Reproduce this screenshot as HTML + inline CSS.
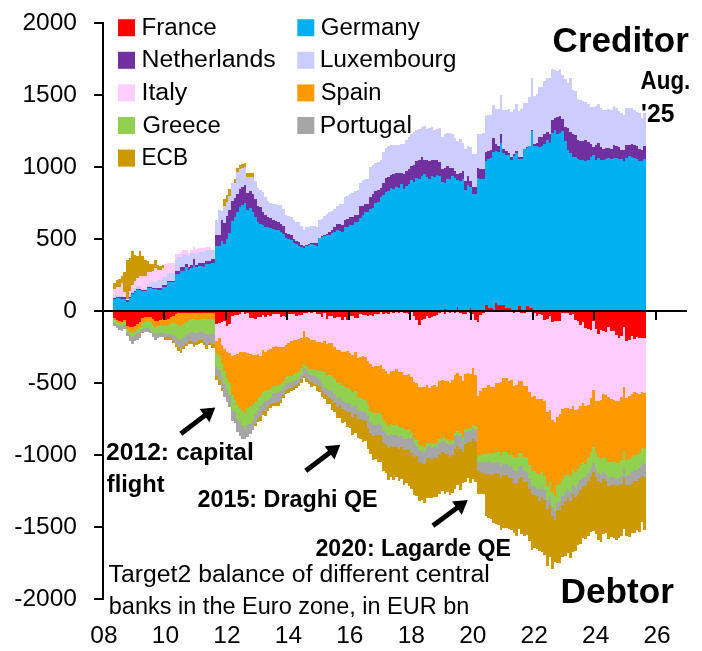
<!DOCTYPE html>
<html lang="en"><head><meta charset="utf-8"><title>Target2 balances</title>
<style>
html,body{margin:0;padding:0;background:#fff;}
body{width:702px;height:651px;overflow:hidden;}
svg{display:block;font-family:"Liberation Sans",Arial,sans-serif;fill:#000;}
</style></head><body>
<svg width="702" height="651" viewBox="0 0 702 651">
<rect width="702" height="651" fill="#fff"/>
<g shape-rendering="crispEdges">
<path d="M113.24,311.0L113.24,283.0L115.80,283.0L115.80,280.0L118.37,280.0L118.37,278.5L120.93,278.5L120.93,276.0L123.49,276.0L123.49,271.5L126.05,271.5L126.05,260.0L128.61,260.0L128.61,257.5L131.17,257.5L131.17,250.5L133.73,250.5L133.73,255.0L136.29,255.0L136.29,255.5L138.85,255.5L138.85,250.5L141.41,250.5L141.41,255.5L143.97,255.5L143.97,259.5L146.53,259.5L146.53,260.5L149.09,260.5L149.09,264.0L151.66,264.0L151.66,263.5L154.22,263.5L154.22,259.5L156.78,259.5L156.78,265.0L159.34,265.0L159.34,266.2L161.90,266.2L161.90,265.0L164.46,265.0L164.46,264.0L167.02,264.0L167.02,263.0L169.58,263.0L169.58,263.0L172.14,263.0L172.14,263.0L174.70,263.0L174.70,253.5L177.26,253.5L177.26,253.5L179.82,253.5L179.82,251.5L182.39,251.5L182.39,249.5L184.95,249.5L184.95,249.5L187.51,249.5L187.51,252.5L190.07,252.5L190.07,249.5L192.63,249.5L192.63,246.5L195.19,246.5L195.19,248.5L197.75,248.5L197.75,248.0L200.31,248.0L200.31,248.0L202.87,248.0L202.87,248.0L205.43,248.0L205.43,247.0L207.99,247.0L207.99,247.0L210.56,247.0L210.56,249.5L213.12,249.5L213.12,249.5L214.60,249.5L214.60,220.0L218.24,220.0L218.24,210.3L220.80,210.3L220.80,210.8L223.36,210.8L223.36,199.1L225.92,199.1L225.92,195.0L228.48,195.0L228.48,189.3L231.04,189.3L231.04,183.3L233.60,183.3L233.60,179.1L236.16,179.1L236.16,167.9L238.72,167.9L238.72,165.2L241.29,165.2L241.28,163.6L243.85,163.6L243.85,162.8L246.41,162.8L246.41,172.5L248.97,172.5L248.97,172.5L251.53,172.5L251.53,172.5L254.09,172.5L254.09,180.8L256.65,180.8L256.65,187.8L259.21,187.8L259.21,189.7L261.77,189.7L261.77,192.2L264.33,192.2L264.33,197.2L266.89,197.2L266.89,201.1L269.45,201.1L269.45,203.1L272.01,203.1L272.01,203.7L274.58,203.7L274.58,204.1L277.14,204.1L277.14,204.8L279.70,204.8L279.70,205.4L282.26,205.4L282.26,209.0L284.82,209.0L284.82,215.3L287.38,215.3L287.38,216.0L289.94,216.0L289.94,216.9L292.50,216.9L292.50,220.1L295.06,220.1L295.06,221.5L297.62,221.5L297.62,222.4L300.18,222.4L300.18,226.3L302.75,226.3L302.75,229.5L305.31,229.5L305.31,227.3L307.87,227.3L307.87,226.5L310.43,226.5L310.43,225.9L312.99,225.9L312.99,226.2L315.55,226.2L315.55,226.6L318.11,226.6L318.11,219.8L320.67,219.8L320.67,219.3L323.23,219.3L323.23,216.4L325.79,216.4L325.79,213.6L328.35,213.6L328.35,212.3L330.91,212.3L330.91,210.9L333.48,210.9L333.48,209.2L336.04,209.2L336.04,206.4L338.60,206.4L338.60,204.4L341.16,204.4L341.16,203.5L343.72,203.5L343.72,197.3L346.28,197.3L346.28,195.7L348.84,195.7L348.84,194.1L351.40,194.1L351.40,192.7L353.96,192.7L353.96,191.4L356.52,191.4L356.52,190.1L359.08,190.1L359.08,183.3L361.64,183.3L361.64,180.1L364.21,180.1L364.21,179.3L366.77,179.3L366.77,178.6L369.33,178.6L369.33,167.4L371.89,167.4L371.89,164.8L374.45,164.8L374.45,162.8L377.01,162.8L377.01,161.5L379.57,161.5L379.57,160.2L382.13,160.2L382.13,151.7L384.69,151.7L384.69,147.9L387.25,147.9L387.25,145.8L389.81,145.8L389.81,145.4L392.37,145.4L392.37,145.1L394.94,145.1L394.94,144.9L397.50,144.9L397.50,144.7L400.06,144.7L400.06,144.4L402.62,144.4L402.62,144.2L405.18,144.2L405.18,140.0L407.74,140.0L407.74,136.5L410.30,136.5L410.30,133.9L412.86,133.9L412.86,132.0L415.42,132.0L415.42,130.3L417.98,130.3L417.98,128.6L420.54,128.6L420.54,126.6L423.10,126.6L423.10,125.9L425.67,125.9L425.67,128.9L428.23,128.9L428.23,127.6L430.79,127.6L430.79,127.4L433.35,127.4L433.35,130.0L435.91,130.0L435.91,128.7L438.47,128.7L438.47,128.0L441.03,128.0L441.03,136.5L443.59,136.5L443.59,134.0L446.15,134.0L446.15,132.7L448.71,132.7L448.71,133.2L451.27,133.2L451.27,133.7L453.83,133.7L453.83,137.6L456.40,137.6L456.40,140.8L458.96,140.8L458.96,138.8L461.52,138.8L461.52,143.1L464.08,143.1L464.08,149.3L466.64,149.3L466.64,146.0L469.20,146.0L469.20,146.5L471.76,146.5L471.76,154.2L474.32,154.2L474.32,154.2L476.88,154.2L476.88,134.0L479.44,134.0L479.44,133.7L482.00,133.7L482.00,133.3L484.56,133.3L484.56,115.7L487.13,115.7L487.12,115.4L489.69,115.4L489.69,115.1L492.25,115.1L492.25,105.4L494.81,105.4L494.81,108.6L497.37,108.6L497.37,109.1L499.93,109.1L499.93,95.0L502.49,95.0L502.49,109.9L505.05,109.9L505.05,109.6L507.61,109.6L507.61,109.3L510.17,109.3L510.17,111.9L512.73,111.9L512.73,109.3L515.29,109.3L515.29,103.6L517.86,103.6L517.86,111.0L520.42,111.0L520.42,109.0L522.98,109.0L522.98,102.7L525.54,102.7L525.54,103.2L528.10,103.2L528.10,96.5L530.66,96.5L530.66,78.3L533.22,78.3L533.22,95.7L535.78,95.7L535.78,94.4L538.34,94.4L538.34,87.2L540.90,87.2L540.90,86.7L543.46,86.7L543.46,81.1L546.02,81.1L546.02,78.3L548.59,78.3L548.59,78.2L551.15,78.2L551.15,69.4L553.71,69.4L553.71,70.0L556.27,70.0L556.27,71.1L558.83,71.1L558.83,69.2L561.39,69.2L561.39,74.7L563.95,74.7L563.95,78.8L566.51,78.8L566.51,82.7L569.07,82.7L569.07,78.3L571.63,78.3L571.63,90.2L574.19,90.2L574.19,90.6L576.75,90.6L576.75,98.7L579.32,98.7L579.32,100.2L581.88,100.2L581.88,101.3L584.44,101.3L584.44,102.2L587.00,102.2L587.00,104.1L589.56,104.1L589.56,106.7L592.12,106.7L592.12,106.9L594.68,106.9L594.68,106.1L597.24,106.1L597.24,103.7L599.80,103.7L599.80,107.7L602.36,107.7L602.36,109.9L604.92,109.9L604.92,109.5L607.48,109.5L607.48,109.3L610.04,109.3L610.05,110.4L612.61,110.4L612.61,105.6L615.17,105.6L615.17,108.1L617.73,108.1L617.73,110.7L620.29,110.7L620.29,113.2L622.85,113.2L622.85,114.6L625.41,114.6L625.41,108.3L627.97,108.3L627.97,108.3L630.53,108.3L630.53,108.4L633.09,108.4L633.09,110.1L635.65,110.1L635.65,111.8L638.21,111.8L638.21,113.4L640.78,113.4L640.78,117.8L643.34,117.8L643.34,113.3L645.90,113.3L645.90,311.0Z" fill="#CC9900"/>
<path d="M113.24,311.0L113.24,289.0L115.80,289.0L115.80,286.5L118.37,286.5L118.37,286.5L120.93,286.5L120.93,283.2L123.49,283.2L123.49,292.0L126.05,292.0L126.05,299.0L128.61,299.0L128.61,291.0L131.17,291.0L131.17,285.0L133.73,285.0L133.73,281.0L136.29,281.0L136.29,277.5L138.85,277.5L138.85,275.5L141.41,275.5L141.41,275.5L143.97,275.5L143.97,275.5L146.53,275.5L146.53,272.0L149.09,272.0L149.09,272.0L151.66,272.0L151.66,270.5L154.22,270.5L154.22,267.5L156.78,267.5L156.78,270.0L159.34,270.0L159.34,270.0L161.90,270.0L161.90,268.3L164.46,268.3L164.46,264.0L167.02,264.0L167.02,263.0L169.58,263.0L169.58,263.0L172.14,263.0L172.14,263.0L174.70,263.0L174.70,253.5L177.26,253.5L177.26,253.5L179.82,253.5L179.82,251.5L182.39,251.5L182.39,249.5L184.95,249.5L184.95,249.5L187.51,249.5L187.51,252.5L190.07,252.5L190.07,249.5L192.63,249.5L192.63,246.5L195.19,246.5L195.19,248.5L197.75,248.5L197.75,248.0L200.31,248.0L200.31,248.0L202.87,248.0L202.87,248.0L205.43,248.0L205.43,247.0L207.99,247.0L207.99,247.0L210.56,247.0L210.56,249.5L213.12,249.5L213.12,249.5L214.60,249.5L214.60,220.0L218.24,220.0L218.24,210.3L220.80,210.3L220.80,210.8L223.36,210.8L223.36,205.6L225.92,205.6L225.92,201.5L228.48,201.5L228.48,195.8L231.04,195.8L231.04,183.3L233.60,183.3L233.60,183.3L236.16,183.3L236.16,172.1L238.72,172.1L238.72,169.4L241.29,169.4L241.28,167.8L243.85,167.8L243.85,167.0L246.41,167.0L246.41,176.7L248.97,176.7L248.97,176.7L251.53,176.7L251.53,176.7L254.09,176.7L254.09,180.8L256.65,180.8L256.65,187.8L259.21,187.8L259.21,189.7L261.77,189.7L261.77,192.2L264.33,192.2L264.33,197.2L266.89,197.2L266.89,201.1L269.45,201.1L269.45,203.1L272.01,203.1L272.01,203.7L274.58,203.7L274.58,204.1L277.14,204.1L277.14,204.8L279.70,204.8L279.70,205.4L282.26,205.4L282.26,209.0L284.82,209.0L284.82,215.3L287.38,215.3L287.38,216.0L289.94,216.0L289.94,216.9L292.50,216.9L292.50,220.1L295.06,220.1L295.06,221.5L297.62,221.5L297.62,222.4L300.18,222.4L300.18,226.3L302.75,226.3L302.75,229.5L305.31,229.5L305.31,227.3L307.87,227.3L307.87,226.5L310.43,226.5L310.43,225.9L312.99,225.9L312.99,226.2L315.55,226.2L315.55,226.6L318.11,226.6L318.11,219.8L320.67,219.8L320.67,219.3L323.23,219.3L323.23,216.4L325.79,216.4L325.79,213.6L328.35,213.6L328.35,212.3L330.91,212.3L330.91,210.9L333.48,210.9L333.48,209.2L336.04,209.2L336.04,206.4L338.60,206.4L338.60,204.4L341.16,204.4L341.16,203.5L343.72,203.5L343.72,197.3L346.28,197.3L346.28,195.7L348.84,195.7L348.84,194.1L351.40,194.1L351.40,192.7L353.96,192.7L353.96,191.4L356.52,191.4L356.52,190.1L359.08,190.1L359.08,183.3L361.64,183.3L361.64,180.1L364.21,180.1L364.21,179.3L366.77,179.3L366.77,178.6L369.33,178.6L369.33,167.4L371.89,167.4L371.89,164.8L374.45,164.8L374.45,162.8L377.01,162.8L377.01,161.5L379.57,161.5L379.57,160.2L382.13,160.2L382.13,151.7L384.69,151.7L384.69,147.9L387.25,147.9L387.25,145.8L389.81,145.8L389.81,145.4L392.37,145.4L392.37,145.1L394.94,145.1L394.94,144.9L397.50,144.9L397.50,144.7L400.06,144.7L400.06,144.4L402.62,144.4L402.62,144.2L405.18,144.2L405.18,140.0L407.74,140.0L407.74,136.5L410.30,136.5L410.30,133.9L412.86,133.9L412.86,132.0L415.42,132.0L415.42,130.3L417.98,130.3L417.98,128.6L420.54,128.6L420.54,126.6L423.10,126.6L423.10,125.9L425.67,125.9L425.67,128.9L428.23,128.9L428.23,127.6L430.79,127.6L430.79,127.4L433.35,127.4L433.35,130.0L435.91,130.0L435.91,128.7L438.47,128.7L438.47,128.0L441.03,128.0L441.03,136.5L443.59,136.5L443.59,134.0L446.15,134.0L446.15,132.7L448.71,132.7L448.71,133.2L451.27,133.2L451.27,133.7L453.83,133.7L453.83,137.6L456.40,137.6L456.40,140.8L458.96,140.8L458.96,138.8L461.52,138.8L461.52,143.1L464.08,143.1L464.08,149.3L466.64,149.3L466.64,146.0L469.20,146.0L469.20,146.5L471.76,146.5L471.76,154.2L474.32,154.2L474.32,154.2L476.88,154.2L476.88,134.0L479.44,134.0L479.44,133.7L482.00,133.7L482.00,133.3L484.56,133.3L484.56,115.7L487.13,115.7L487.12,115.4L489.69,115.4L489.69,115.1L492.25,115.1L492.25,105.4L494.81,105.4L494.81,108.6L497.37,108.6L497.37,109.1L499.93,109.1L499.93,95.0L502.49,95.0L502.49,109.9L505.05,109.9L505.05,109.6L507.61,109.6L507.61,109.3L510.17,109.3L510.17,111.9L512.73,111.9L512.73,109.3L515.29,109.3L515.29,103.6L517.86,103.6L517.86,111.0L520.42,111.0L520.42,109.0L522.98,109.0L522.98,102.7L525.54,102.7L525.54,103.2L528.10,103.2L528.10,96.5L530.66,96.5L530.66,78.3L533.22,78.3L533.22,95.7L535.78,95.7L535.78,94.4L538.34,94.4L538.34,87.2L540.90,87.2L540.90,86.7L543.46,86.7L543.46,81.1L546.02,81.1L546.02,78.3L548.59,78.3L548.59,78.2L551.15,78.2L551.15,69.4L553.71,69.4L553.71,70.0L556.27,70.0L556.27,71.1L558.83,71.1L558.83,69.2L561.39,69.2L561.39,74.7L563.95,74.7L563.95,78.8L566.51,78.8L566.51,82.7L569.07,82.7L569.07,78.3L571.63,78.3L571.63,90.2L574.19,90.2L574.19,90.6L576.75,90.6L576.75,98.7L579.32,98.7L579.32,100.2L581.88,100.2L581.88,101.3L584.44,101.3L584.44,102.2L587.00,102.2L587.00,104.1L589.56,104.1L589.56,106.7L592.12,106.7L592.12,106.9L594.68,106.9L594.68,106.1L597.24,106.1L597.24,103.7L599.80,103.7L599.80,107.7L602.36,107.7L602.36,109.9L604.92,109.9L604.92,109.5L607.48,109.5L607.48,109.3L610.04,109.3L610.05,110.4L612.61,110.4L612.61,105.6L615.17,105.6L615.17,108.1L617.73,108.1L617.73,110.7L620.29,110.7L620.29,113.2L622.85,113.2L622.85,114.6L625.41,114.6L625.41,108.3L627.97,108.3L627.97,108.3L630.53,108.3L630.53,108.4L633.09,108.4L633.09,110.1L635.65,110.1L635.65,111.8L638.21,111.8L638.21,113.4L640.78,113.4L640.78,117.8L643.34,117.8L643.34,113.3L645.90,113.3L645.90,311.0Z" fill="#FFCCFF"/>
<path d="M113.24,311.0L113.24,294.5L115.80,294.5L115.80,294.5L118.37,294.5L118.37,295.5L120.93,295.5L120.93,295.5L123.49,295.5L123.49,296.5L126.05,296.5L126.05,300.2L128.61,300.2L128.61,293.0L131.17,293.0L131.17,290.0L133.73,290.0L133.73,288.0L136.29,288.0L136.29,285.5L138.85,285.5L138.85,285.5L141.41,285.5L141.41,288.5L143.97,288.5L143.97,288.5L146.53,288.5L146.53,284.0L149.09,284.0L149.09,282.0L151.66,282.0L151.66,282.0L154.22,282.0L154.22,282.0L156.78,282.0L156.78,280.0L159.34,280.0L159.34,280.0L161.90,280.0L161.90,277.0L164.46,277.0L164.46,277.0L167.02,277.0L167.02,273.0L169.58,273.0L169.58,273.0L172.14,273.0L172.14,273.0L174.70,273.0L174.70,259.0L177.26,259.0L177.26,257.0L179.82,257.0L179.82,257.0L182.39,257.0L182.39,253.5L184.95,253.5L184.95,253.5L187.51,253.5L187.51,256.0L190.07,256.0L190.07,253.0L192.63,253.0L192.63,253.0L195.19,253.0L195.19,253.5L197.75,253.5L197.75,251.5L200.31,251.5L200.31,251.5L202.87,251.5L202.87,251.5L205.43,251.5L205.43,250.0L207.99,250.0L207.99,250.0L210.56,250.0L210.56,250.0L213.12,250.0L213.12,250.0L214.60,250.0L214.60,220.0L218.24,220.0L218.24,210.3L220.80,210.3L220.80,210.8L223.36,210.8L223.36,205.6L225.92,205.6L225.92,201.5L228.48,201.5L228.48,195.8L231.04,195.8L231.04,183.3L233.60,183.3L233.60,183.3L236.16,183.3L236.16,172.1L238.72,172.1L238.72,169.4L241.29,169.4L241.28,167.8L243.85,167.8L243.85,167.0L246.41,167.0L246.41,176.7L248.97,176.7L248.97,176.7L251.53,176.7L251.53,176.7L254.09,176.7L254.09,180.8L256.65,180.8L256.65,187.8L259.21,187.8L259.21,189.7L261.77,189.7L261.77,192.2L264.33,192.2L264.33,197.2L266.89,197.2L266.89,201.1L269.45,201.1L269.45,203.1L272.01,203.1L272.01,203.7L274.58,203.7L274.58,204.1L277.14,204.1L277.14,204.8L279.70,204.8L279.70,205.4L282.26,205.4L282.26,209.0L284.82,209.0L284.82,215.3L287.38,215.3L287.38,216.0L289.94,216.0L289.94,216.9L292.50,216.9L292.50,220.1L295.06,220.1L295.06,221.5L297.62,221.5L297.62,222.4L300.18,222.4L300.18,226.3L302.75,226.3L302.75,229.5L305.31,229.5L305.31,227.3L307.87,227.3L307.87,226.5L310.43,226.5L310.43,225.9L312.99,225.9L312.99,226.2L315.55,226.2L315.55,226.6L318.11,226.6L318.11,219.8L320.67,219.8L320.67,219.3L323.23,219.3L323.23,216.4L325.79,216.4L325.79,213.6L328.35,213.6L328.35,212.3L330.91,212.3L330.91,210.9L333.48,210.9L333.48,209.2L336.04,209.2L336.04,206.4L338.60,206.4L338.60,204.4L341.16,204.4L341.16,203.5L343.72,203.5L343.72,197.3L346.28,197.3L346.28,195.7L348.84,195.7L348.84,194.1L351.40,194.1L351.40,192.7L353.96,192.7L353.96,191.4L356.52,191.4L356.52,190.1L359.08,190.1L359.08,183.3L361.64,183.3L361.64,180.1L364.21,180.1L364.21,179.3L366.77,179.3L366.77,178.6L369.33,178.6L369.33,167.4L371.89,167.4L371.89,164.8L374.45,164.8L374.45,162.8L377.01,162.8L377.01,161.5L379.57,161.5L379.57,160.2L382.13,160.2L382.13,151.7L384.69,151.7L384.69,147.9L387.25,147.9L387.25,145.8L389.81,145.8L389.81,145.4L392.37,145.4L392.37,145.1L394.94,145.1L394.94,144.9L397.50,144.9L397.50,144.7L400.06,144.7L400.06,144.4L402.62,144.4L402.62,144.2L405.18,144.2L405.18,140.0L407.74,140.0L407.74,136.5L410.30,136.5L410.30,133.9L412.86,133.9L412.86,132.0L415.42,132.0L415.42,130.3L417.98,130.3L417.98,128.6L420.54,128.6L420.54,126.6L423.10,126.6L423.10,125.9L425.67,125.9L425.67,128.9L428.23,128.9L428.23,127.6L430.79,127.6L430.79,127.4L433.35,127.4L433.35,130.0L435.91,130.0L435.91,128.7L438.47,128.7L438.47,128.0L441.03,128.0L441.03,136.5L443.59,136.5L443.59,134.0L446.15,134.0L446.15,132.7L448.71,132.7L448.71,133.2L451.27,133.2L451.27,133.7L453.83,133.7L453.83,137.6L456.40,137.6L456.40,140.8L458.96,140.8L458.96,138.8L461.52,138.8L461.52,143.1L464.08,143.1L464.08,149.3L466.64,149.3L466.64,146.0L469.20,146.0L469.20,146.5L471.76,146.5L471.76,154.2L474.32,154.2L474.32,154.2L476.88,154.2L476.88,134.0L479.44,134.0L479.44,133.7L482.00,133.7L482.00,133.3L484.56,133.3L484.56,115.7L487.13,115.7L487.12,115.4L489.69,115.4L489.69,115.1L492.25,115.1L492.25,105.4L494.81,105.4L494.81,108.6L497.37,108.6L497.37,109.1L499.93,109.1L499.93,95.0L502.49,95.0L502.49,109.9L505.05,109.9L505.05,109.6L507.61,109.6L507.61,109.3L510.17,109.3L510.17,111.9L512.73,111.9L512.73,109.3L515.29,109.3L515.29,103.6L517.86,103.6L517.86,111.0L520.42,111.0L520.42,109.0L522.98,109.0L522.98,102.7L525.54,102.7L525.54,103.2L528.10,103.2L528.10,96.5L530.66,96.5L530.66,78.3L533.22,78.3L533.22,95.7L535.78,95.7L535.78,94.4L538.34,94.4L538.34,87.2L540.90,87.2L540.90,86.7L543.46,86.7L543.46,81.1L546.02,81.1L546.02,78.3L548.59,78.3L548.59,78.2L551.15,78.2L551.15,69.4L553.71,69.4L553.71,70.0L556.27,70.0L556.27,71.1L558.83,71.1L558.83,69.2L561.39,69.2L561.39,74.7L563.95,74.7L563.95,78.8L566.51,78.8L566.51,82.7L569.07,82.7L569.07,78.3L571.63,78.3L571.63,90.2L574.19,90.2L574.19,90.6L576.75,90.6L576.75,98.7L579.32,98.7L579.32,100.2L581.88,100.2L581.88,101.3L584.44,101.3L584.44,102.2L587.00,102.2L587.00,104.1L589.56,104.1L589.56,106.7L592.12,106.7L592.12,106.9L594.68,106.9L594.68,106.1L597.24,106.1L597.24,103.7L599.80,103.7L599.80,107.7L602.36,107.7L602.36,109.9L604.92,109.9L604.92,109.5L607.48,109.5L607.48,109.3L610.04,109.3L610.05,110.4L612.61,110.4L612.61,105.6L615.17,105.6L615.17,108.1L617.73,108.1L617.73,110.7L620.29,110.7L620.29,113.2L622.85,113.2L622.85,114.6L625.41,114.6L625.41,108.3L627.97,108.3L627.97,108.3L630.53,108.3L630.53,108.4L633.09,108.4L633.09,110.1L635.65,110.1L635.65,111.8L638.21,111.8L638.21,113.4L640.78,113.4L640.78,117.8L643.34,117.8L643.34,113.3L645.90,113.3L645.90,311.0Z" fill="#CCCCFF"/>
<path d="M113.24,311.0L113.24,297.7L115.80,297.7L115.80,296.7L118.37,296.7L118.37,296.7L120.93,296.7L120.93,297.2L123.49,297.2L123.49,297.2L126.05,297.2L126.05,300.2L128.61,300.2L128.61,296.7L131.17,296.7L131.17,292.7L133.73,292.7L133.73,290.7L136.29,290.7L136.29,288.7L138.85,288.7L138.85,288.7L141.41,288.7L141.41,289.7L143.97,289.7L143.97,289.7L146.53,289.7L146.53,286.7L149.09,286.7L149.09,286.7L151.66,286.7L151.66,287.7L154.22,287.7L154.22,287.7L156.78,287.7L156.78,288.2L159.34,288.2L159.34,288.2L161.90,288.2L161.90,285.2L164.46,285.2L164.46,285.2L167.02,285.2L167.02,280.7L169.58,280.7L169.58,280.7L172.14,280.7L172.14,280.7L174.70,280.7L174.70,270.5L177.26,270.5L177.26,270.5L179.82,270.5L179.82,267.0L182.39,267.0L182.39,267.0L184.95,267.0L184.95,263.5L187.51,263.5L187.51,266.5L190.07,266.5L190.07,265.0L192.63,265.0L192.63,259.0L195.19,259.0L195.19,265.0L197.75,265.0L197.75,262.5L200.31,262.5L200.31,262.5L202.87,262.5L202.87,263.0L205.43,263.0L205.43,260.5L207.99,260.5L207.99,260.5L210.56,260.5L210.56,259.0L213.12,259.0L213.12,259.0L214.60,259.0L214.60,235.0L218.24,235.0L218.24,235.0L220.80,235.0L220.80,220.0L223.36,220.0L223.36,223.0L225.92,223.0L225.92,216.0L228.48,216.0L228.48,210.0L231.04,210.0L231.04,201.0L233.60,201.0L233.60,197.6L236.16,197.6L236.16,193.6L238.72,193.6L238.72,188.7L241.29,188.7L241.28,186.9L243.85,186.9L243.85,185.0L246.41,185.0L246.41,193.3L248.97,193.3L248.97,190.9L251.53,190.9L251.53,193.5L254.09,193.5L254.09,199.1L256.65,199.1L256.65,205.7L259.21,205.7L259.21,207.2L261.77,207.2L261.77,211.6L264.33,211.6L264.33,215.0L266.89,215.0L266.89,216.7L269.45,216.7L269.45,218.2L272.01,218.2L272.01,219.5L274.58,219.5L274.58,220.8L277.14,220.8L277.14,222.0L279.70,222.0L279.70,223.8L282.26,223.8L282.26,225.9L284.82,225.9L284.82,232.5L287.38,232.5L287.38,233.8L289.94,233.8L289.94,235.3L292.50,235.3L292.50,238.5L295.06,238.5L295.06,240.5L297.62,240.5L297.62,242.2L300.18,242.2L300.18,244.6L302.75,244.6L302.75,246.3L305.31,246.3L305.31,244.8L307.87,244.8L307.87,244.0L310.43,244.0L310.43,243.3L312.99,243.3L312.99,243.3L315.55,243.3L315.55,243.3L318.11,243.3L318.11,237.8L320.67,237.8L320.67,236.2L323.23,236.2L323.23,234.9L325.79,234.9L325.79,233.6L328.35,233.6L328.35,232.3L330.91,232.3L330.91,230.2L333.48,230.2L333.48,227.0L336.04,227.0L336.04,223.8L338.60,223.8L338.60,224.0L341.16,224.0L341.16,224.8L343.72,224.8L343.72,219.9L346.28,219.9L346.28,219.3L348.84,219.3L348.84,217.4L351.40,217.4L351.40,217.2L353.96,217.2L353.96,214.9L356.52,214.9L356.52,214.6L359.08,214.6L359.08,206.4L361.64,206.4L361.64,205.9L364.21,205.9L364.21,203.8L366.77,203.8L366.77,203.5L369.33,203.5L369.33,197.3L371.89,197.3L371.89,194.3L374.45,194.3L374.45,190.9L377.01,190.9L377.01,189.9L379.57,189.9L379.57,187.5L382.13,187.5L382.13,182.8L384.69,182.8L384.69,178.1L387.25,178.1L387.25,177.2L389.81,177.2L389.81,174.7L392.37,174.7L392.37,174.4L394.94,174.4L394.94,172.5L397.50,172.5L397.50,173.0L400.06,173.0L400.06,172.6L402.62,172.6L402.62,173.8L405.18,173.8L405.18,170.6L407.74,170.6L407.74,168.6L410.30,168.6L410.30,165.6L412.86,165.6L412.86,164.5L415.42,164.5L415.42,161.1L417.98,161.1L417.98,159.8L420.54,159.8L420.54,157.3L423.10,157.3L423.10,159.6L425.67,159.6L425.67,159.9L428.23,159.9L428.23,161.2L430.79,161.2L430.79,159.7L433.35,159.7L433.35,160.2L435.91,160.2L435.91,159.5L438.47,159.5L438.47,161.7L441.03,161.7L441.03,169.0L443.59,169.0L443.59,168.0L446.15,168.0L446.15,165.8L448.71,165.8L448.71,168.0L451.27,168.0L451.27,168.4L453.83,168.4L453.83,171.3L456.40,171.3L456.40,173.8L458.96,173.8L458.96,172.8L461.52,172.8L461.52,171.2L464.08,171.2L464.08,180.8L466.64,180.8L466.64,175.6L469.20,175.6L469.20,180.7L471.76,180.7L471.76,186.7L474.32,186.7L474.32,186.7L476.88,186.7L476.88,168.4L479.44,168.4L479.44,168.7L482.00,168.7L482.00,169.1L484.56,169.1L484.56,152.1L487.13,152.1L487.12,151.0L489.69,151.0L489.69,149.8L492.25,149.8L492.25,138.2L494.81,138.2L494.81,144.2L497.37,144.2L497.37,146.3L499.93,146.3L499.93,134.2L502.49,134.2L502.49,149.1L505.05,149.1L505.05,150.5L507.61,150.5L507.61,153.0L510.17,153.0L510.17,156.7L512.73,156.7L512.73,153.5L515.29,153.5L515.29,150.9L517.86,150.9L517.86,157.2L520.42,157.2L520.42,156.8L522.98,156.8L522.98,148.6L525.54,148.6L525.54,146.8L528.10,146.8L528.10,145.5L530.66,145.5L530.66,130.1L533.22,130.1L533.22,143.8L535.78,143.8L535.78,142.9L538.34,142.9L538.34,137.3L540.90,137.3L540.90,136.9L543.46,136.9L543.46,134.3L546.02,134.3L546.02,131.9L548.59,131.9L548.59,134.2L551.15,134.2L551.15,120.4L553.71,120.4L553.71,118.2L556.27,118.2L556.27,117.0L558.83,117.0L558.83,115.9L561.39,115.9L561.39,118.8L563.95,118.8L563.95,126.9L566.51,126.9L566.51,128.3L569.07,128.3L569.07,131.9L571.63,131.9L571.63,134.2L574.19,134.2L574.19,135.2L576.75,135.2L576.75,140.2L579.32,140.2L579.32,140.7L581.88,140.7L581.88,140.5L584.44,140.5L584.44,140.0L587.00,140.0L587.00,142.0L589.56,142.0L589.56,144.2L592.12,144.2L592.12,146.6L594.68,146.6L594.68,144.5L597.24,144.5L597.24,142.8L599.80,142.8L599.80,146.9L602.36,146.9L602.36,149.1L604.92,149.1L604.92,148.2L607.48,148.2L607.48,147.7L610.04,147.7L610.05,148.7L612.61,148.7L612.61,145.0L615.17,145.0L615.17,145.5L617.73,145.5L617.73,147.3L620.29,147.3L620.29,149.9L622.85,149.9L622.85,149.5L625.41,149.5L625.41,144.9L627.97,144.9L627.97,144.5L630.53,144.5L630.53,144.2L633.09,144.2L633.09,144.9L635.65,144.9L635.65,145.7L638.21,145.7L638.21,149.3L640.78,149.3L640.78,149.7L643.34,149.7L643.34,145.6L645.90,145.6L645.90,311.0Z" fill="#7030A0"/>
<path d="M113.24,311.0L113.24,299.0L115.80,299.0L115.80,298.0L118.37,298.0L118.37,298.0L120.93,298.0L120.93,298.5L123.49,298.5L123.49,298.5L126.05,298.5L126.05,301.5L128.61,301.5L128.61,298.0L131.17,298.0L131.17,294.0L133.73,294.0L133.73,292.0L136.29,292.0L136.29,290.0L138.85,290.0L138.85,290.0L141.41,290.0L141.41,291.0L143.97,291.0L143.97,291.0L146.53,291.0L146.53,288.0L149.09,288.0L149.09,288.0L151.66,288.0L151.66,289.0L154.22,289.0L154.22,289.0L156.78,289.0L156.78,289.5L159.34,289.5L159.34,289.5L161.90,289.5L161.90,286.5L164.46,286.5L164.46,286.5L167.02,286.5L167.02,282.0L169.58,282.0L169.58,282.0L172.14,282.0L172.14,282.0L174.70,282.0L174.70,274.0L177.26,274.0L177.26,274.0L179.82,274.0L179.82,271.0L182.39,271.0L182.39,271.0L184.95,271.0L184.95,267.0L187.51,267.0L187.51,270.0L190.07,270.0L190.07,268.0L192.63,268.0L192.63,265.0L195.19,265.0L195.19,267.0L197.75,267.0L197.75,265.5L200.31,265.5L200.31,265.5L202.87,265.5L202.87,267.0L205.43,267.0L205.43,264.0L207.99,264.0L207.99,264.0L210.56,264.0L210.56,262.5L213.12,262.5L213.12,262.5L214.60,262.5L214.60,246.0L218.24,246.0L218.24,246.0L220.80,246.0L220.80,241.0L223.36,241.0L223.36,244.0L225.92,244.0L225.92,239.0L228.48,239.0L228.48,232.6L231.04,232.6L231.04,221.1L233.60,221.1L233.60,216.9L236.16,216.9L236.16,211.8L238.72,211.8L238.72,207.0L241.29,207.0L241.28,205.2L243.85,205.2L243.85,203.4L246.41,203.4L246.41,209.6L248.97,209.6L248.97,208.4L251.53,208.4L251.53,212.0L254.09,212.0L254.09,217.3L256.65,217.3L256.65,222.3L259.21,222.3L259.21,223.9L261.77,223.9L261.77,225.2L264.33,225.2L264.33,226.5L266.89,226.5L266.89,227.4L269.45,227.4L269.45,228.2L272.01,228.2L272.01,228.9L274.58,228.9L274.58,229.5L277.14,229.5L277.14,230.4L279.70,230.4L279.70,231.7L282.26,231.7L282.26,234.0L284.82,234.0L284.82,238.4L287.38,238.4L287.38,239.2L289.94,239.2L289.94,240.2L292.50,240.2L292.50,242.8L295.06,242.8L295.06,244.3L297.62,244.3L297.62,245.6L300.18,245.6L300.18,247.1L302.75,247.1L302.75,248.0L305.31,248.0L305.31,246.4L307.87,246.4L307.87,245.1L310.43,245.1L310.43,244.3L312.99,244.3L312.99,245.0L315.55,245.0L315.55,245.6L318.11,245.6L318.11,238.3L320.67,238.3L320.67,237.0L323.23,237.0L323.23,235.8L325.79,235.8L325.79,235.4L328.35,235.4L328.35,234.8L330.91,234.8L330.91,233.2L333.48,233.2L333.48,231.6L336.04,231.6L336.04,230.2L338.60,230.2L338.60,231.1L341.16,231.1L341.16,231.6L343.72,231.6L343.72,227.4L346.28,227.4L346.28,227.1L348.84,227.1L348.84,224.9L351.40,224.9L351.40,225.0L353.96,225.0L353.96,221.9L356.52,221.9L356.52,222.4L359.08,222.4L359.08,217.6L361.64,217.6L361.64,215.1L364.21,215.1L364.21,211.9L366.77,211.9L366.77,212.2L369.33,212.2L369.33,208.6L371.89,208.6L371.89,207.9L374.45,207.9L374.45,202.7L377.01,202.7L377.01,202.1L379.57,202.1L379.57,197.1L382.13,197.1L382.13,195.3L384.69,195.3L384.69,191.6L387.25,191.6L387.25,190.6L389.81,190.6L389.81,187.6L392.37,187.6L392.37,189.3L394.94,189.3L394.94,186.8L397.50,186.8L397.50,187.6L400.06,187.6L400.06,184.0L402.62,184.0L402.62,188.8L405.18,188.8L405.18,185.7L407.74,185.7L407.74,184.4L410.30,184.4L410.30,180.4L412.86,180.4L412.86,181.6L415.42,181.6L415.42,177.9L417.98,177.9L417.98,179.1L420.54,179.1L420.54,176.0L423.10,176.0L423.10,174.1L425.67,174.1L425.67,177.1L428.23,177.1L428.23,179.3L430.79,179.3L430.79,176.1L433.35,176.1L433.35,176.8L435.91,176.8L435.91,174.9L438.47,174.9L438.47,176.0L441.03,176.0L441.03,182.4L443.59,182.4L443.59,182.5L446.15,182.5L446.15,178.8L448.71,178.8L448.71,179.4L451.27,179.4L451.27,176.2L453.83,176.2L453.83,177.5L456.40,177.5L456.40,180.4L458.96,180.4L458.96,181.1L461.52,181.1L461.52,179.3L464.08,179.3L464.08,190.0L466.64,190.0L466.64,184.5L469.20,184.5L469.20,186.5L471.76,186.5L471.76,194.2L474.32,194.2L474.32,194.2L476.88,194.2L476.88,178.4L479.44,178.4L479.44,178.7L482.00,178.7L482.00,179.1L484.56,179.1L484.56,161.0L487.13,161.0L487.12,159.1L489.69,159.1L489.69,158.1L492.25,158.1L492.25,151.9L494.81,151.9L494.81,150.9L497.37,150.9L497.37,152.2L499.93,152.2L499.93,142.8L502.49,142.8L502.49,153.3L505.05,153.3L505.05,154.5L507.61,154.5L507.61,154.5L510.17,154.5L510.17,160.4L512.73,160.4L512.73,156.0L515.29,156.0L515.29,153.4L517.86,153.4L517.86,158.9L520.42,158.9L520.42,158.5L522.98,158.5L522.98,149.4L525.54,149.4L525.54,147.7L528.10,147.7L528.10,146.4L530.66,146.4L530.66,130.6L533.22,130.6L533.22,145.8L535.78,145.8L535.78,145.8L538.34,145.8L538.34,147.1L540.90,147.1L540.90,145.7L543.46,145.7L543.46,143.5L546.02,143.5L546.02,140.2L548.59,140.2L548.59,143.0L551.15,143.0L551.15,133.4L553.71,133.4L553.71,130.0L556.27,130.0L556.27,133.8L558.83,133.8L558.83,133.0L561.39,133.0L561.39,130.8L563.95,130.8L563.95,140.7L566.51,140.7L566.51,149.5L569.07,149.5L569.07,153.4L571.63,153.4L571.63,156.7L574.19,156.7L574.19,156.5L576.75,156.5L576.75,158.8L579.32,158.8L579.32,159.6L581.88,159.6L581.88,160.2L584.44,160.2L584.44,160.7L587.00,160.7L587.00,159.5L589.56,159.5L589.56,157.4L592.12,157.4L592.12,154.8L594.68,154.8L594.68,159.9L597.24,159.9L597.24,157.7L599.80,157.7L599.80,159.7L602.36,159.7L602.36,160.1L604.92,160.1L604.92,158.6L607.48,158.6L607.48,158.0L610.04,158.0L610.05,159.1L612.61,159.1L612.61,158.0L615.17,158.0L615.17,157.9L617.73,157.9L617.73,158.5L620.29,158.5L620.29,159.1L622.85,159.1L622.85,160.8L625.41,160.8L625.41,157.8L627.97,157.8L627.97,156.1L630.53,156.1L630.53,157.0L633.09,157.0L633.09,157.8L635.65,157.8L635.65,158.5L638.21,158.5L638.21,160.6L640.78,160.6L640.78,160.9L643.34,160.9L643.34,159.1L645.90,159.1L645.90,311.0Z" fill="#00B0F0"/>
<path d="M113.24,311.0L113.24,326.4L115.80,326.4L115.80,328.2L118.37,328.2L118.37,329.5L120.93,329.5L120.93,330.8L123.49,330.8L123.49,329.2L126.05,329.2L126.05,336.4L128.61,336.4L128.61,340.5L131.17,340.5L131.17,344.0L133.73,344.0L133.73,340.8L136.29,340.8L136.29,339.6L138.85,339.6L138.85,338.1L141.41,338.1L141.41,332.5L143.97,332.5L143.97,331.7L146.53,331.7L146.53,331.7L149.09,331.7L149.09,333.4L151.66,333.4L151.66,336.6L154.22,336.6L154.22,339.8L156.78,339.8L156.78,338.2L159.34,338.2L159.34,337.2L161.90,337.2L161.90,336.8L164.46,336.8L164.46,339.6L167.02,339.6L167.02,339.8L169.58,339.8L169.58,339.5L172.14,339.5L172.14,343.3L174.70,343.3L174.70,346.6L177.26,346.6L177.26,350.5L179.82,350.5L179.82,353.4L182.39,353.4L182.39,348.9L184.95,348.9L184.95,346.1L187.51,346.1L187.51,344.3L190.07,344.3L190.07,344.0L192.63,344.0L192.63,346.6L195.19,346.6L195.19,345.4L197.75,345.4L197.75,343.7L200.31,343.7L200.31,343.2L202.87,343.2L202.87,345.3L205.43,345.3L205.43,348.8L207.99,348.8L207.99,345.3L210.56,345.3L210.56,347.8L213.12,347.8L213.12,347.8L214.60,347.8L214.60,379.9L218.24,379.9L218.24,384.9L220.80,384.9L220.80,390.9L223.36,390.9L223.36,397.1L225.92,397.1L225.92,402.2L228.48,402.2L228.48,406.7L231.04,406.7L231.04,420.7L233.60,420.7L233.60,422.7L236.16,422.7L236.16,431.8L238.72,431.8L238.72,435.7L241.29,435.7L241.28,439.0L243.85,439.0L243.85,439.3L246.41,439.3L246.41,436.5L248.97,436.5L248.97,434.4L251.53,434.4L251.53,430.3L254.09,430.3L254.09,425.9L256.65,425.9L256.65,421.9L259.21,421.9L259.21,420.9L261.77,420.9L261.77,414.5L264.33,414.5L264.33,415.8L266.89,415.8L266.89,410.7L269.45,410.7L269.45,407.7L272.01,407.7L272.01,406.0L274.58,406.0L274.58,406.4L277.14,406.4L277.14,405.6L279.70,405.6L279.70,403.0L282.26,403.0L282.26,398.4L284.82,398.4L284.82,394.3L287.38,394.3L287.38,392.8L289.94,392.8L289.94,391.3L292.50,391.3L292.50,389.6L295.06,389.6L295.06,387.8L297.62,387.8L297.62,385.6L300.18,385.6L300.18,382.8L302.75,382.8L302.75,378.0L305.31,378.0L305.31,382.2L307.87,382.2L307.87,384.1L310.43,384.1L310.43,386.5L312.99,386.5L312.99,385.9L315.55,385.9L315.55,390.9L318.11,390.9L318.11,391.5L320.67,391.5L320.67,397.3L323.23,397.3L323.23,399.1L325.79,399.1L325.79,403.5L328.35,403.5L328.35,404.0L330.91,404.0L330.91,409.8L333.48,409.8L333.48,411.8L336.04,411.8L336.04,418.4L338.60,418.4L338.60,417.5L341.16,417.5L341.16,422.7L343.72,422.7L343.72,421.7L346.28,421.7L346.28,426.6L348.84,426.6L348.84,428.4L351.40,428.4L351.40,434.5L353.96,434.5L353.96,432.5L356.52,432.5L356.52,438.3L359.08,438.3L359.08,438.7L361.64,438.7L361.64,442.2L364.21,442.2L364.21,440.8L366.77,440.8L366.77,449.2L369.33,449.2L369.33,453.6L371.89,453.6L371.89,460.0L374.45,460.0L374.45,458.5L377.01,458.5L377.01,461.8L379.57,461.8L379.57,462.4L382.13,462.4L382.13,470.5L384.69,470.5L384.69,473.1L387.25,473.1L387.25,479.9L389.81,479.9L389.81,476.6L392.37,476.6L392.37,479.9L394.94,479.9L394.94,477.0L397.50,477.0L397.50,480.6L400.06,480.6L400.06,479.1L402.62,479.1L402.62,484.5L405.18,484.5L405.18,483.2L407.74,483.2L407.74,486.1L410.30,486.1L410.30,488.7L412.86,488.7L412.86,494.8L415.42,494.8L415.42,495.8L417.98,495.8L417.98,501.2L420.54,501.2L420.54,499.9L423.10,499.9L423.10,502.7L425.67,502.7L425.67,497.7L428.23,497.7L428.23,498.1L430.79,498.1L430.79,498.1L433.35,498.1L433.35,497.4L435.91,497.4L435.91,497.4L438.47,497.4L438.47,493.7L441.03,493.7L441.03,490.7L443.59,490.7L443.59,494.0L446.15,494.0L446.15,491.6L448.71,491.6L448.71,495.4L451.27,495.4L451.27,493.1L453.83,493.1L453.83,488.9L456.40,488.9L456.40,485.2L458.96,485.2L458.96,490.0L461.52,490.0L461.52,483.4L464.08,483.4L464.08,481.8L466.64,481.8L466.64,478.3L469.20,478.3L469.20,483.4L471.76,483.4L471.76,478.5L474.32,478.5L474.32,481.5L476.88,481.5L476.88,493.5L479.44,493.5L479.44,493.8L482.00,493.8L482.00,494.2L484.56,494.2L484.56,515.5L487.13,515.5L487.12,517.5L489.69,517.5L489.69,519.1L492.25,519.1L492.25,522.6L494.81,522.6L494.81,524.2L497.37,524.2L497.37,525.4L499.93,525.4L499.93,529.9L502.49,529.9L502.49,527.8L505.05,527.8L505.05,528.4L507.61,528.4L507.61,529.4L510.17,529.4L510.17,530.4L512.73,530.4L512.73,532.9L515.29,532.9L515.29,536.3L517.86,536.3L517.86,529.3L520.42,529.3L520.42,533.7L522.98,533.7L522.98,536.1L525.54,536.1L525.54,534.6L528.10,534.6L528.10,540.8L530.66,540.8L530.66,549.8L533.22,549.8L533.22,547.9L535.78,547.9L535.78,549.0L538.34,549.0L538.34,550.8L540.90,550.8L540.90,552.2L543.46,552.2L543.46,554.7L546.02,554.7L546.02,565.5L548.59,565.5L548.59,556.7L551.15,556.7L551.15,569.2L553.71,569.2L553.71,562.2L556.27,562.2L556.27,563.2L558.83,563.2L558.83,562.8L561.39,562.8L561.39,556.6L563.95,556.6L563.95,556.1L566.51,556.1L566.51,553.0L569.07,553.0L569.07,558.3L571.63,558.3L571.63,551.6L574.19,551.6L574.19,551.1L576.75,551.1L576.75,544.9L579.32,544.9L579.32,544.4L581.88,544.4L581.88,538.3L584.44,538.3L584.44,539.0L587.00,539.0L587.00,536.3L589.56,536.3L589.56,531.7L592.12,531.7L592.12,530.9L594.68,530.9L594.68,533.7L597.24,533.7L597.24,539.5L599.80,539.5L599.80,542.1L602.36,542.1L602.36,534.1L604.92,534.1L604.92,533.4L607.48,533.4L607.48,539.2L610.04,539.2L610.05,537.2L612.61,537.2L612.61,537.9L615.17,537.9L615.17,540.0L617.73,540.0L617.73,537.5L620.29,537.5L620.29,535.7L622.85,535.7L622.85,529.2L625.41,529.2L625.41,536.2L627.97,536.2L627.97,537.2L630.53,537.2L630.53,532.8L633.09,532.8L633.09,533.0L635.65,533.0L635.65,529.7L638.21,529.7L638.21,531.9L640.78,531.9L640.78,521.7L643.34,521.7L643.34,530.0L645.90,530.0L645.90,311.0Z" fill="#CC9900"/>
<path d="M113.24,311.0L113.24,326.4L115.80,326.4L115.80,328.2L118.37,328.2L118.37,329.5L120.93,329.5L120.93,330.8L123.49,330.8L123.49,329.2L126.05,329.2L126.05,336.4L128.61,336.4L128.61,340.5L131.17,340.5L131.17,344.0L133.73,344.0L133.73,340.8L136.29,340.8L136.29,339.6L138.85,339.6L138.85,338.1L141.41,338.1L141.41,332.5L143.97,332.5L143.97,331.7L146.53,331.7L146.53,331.7L149.09,331.7L149.09,333.4L151.66,333.4L151.66,336.6L154.22,336.6L154.22,339.8L156.78,339.8L156.78,338.2L159.34,338.2L159.34,337.2L161.90,337.2L161.90,336.8L164.46,336.8L164.46,337.2L167.02,337.2L167.02,337.1L169.58,337.1L169.58,337.0L172.14,337.0L172.14,340.8L174.70,340.8L174.70,343.7L177.26,343.7L177.26,346.8L179.82,346.8L179.82,349.5L182.39,349.5L182.39,346.3L184.95,346.3L184.95,343.6L187.51,343.6L187.51,341.4L190.07,341.4L190.07,340.7L192.63,340.7L192.63,343.2L195.19,343.2L195.19,342.1L197.75,342.1L197.75,340.4L200.31,340.4L200.31,339.9L202.87,339.9L202.87,341.9L205.43,341.9L205.43,344.8L207.99,344.8L207.99,342.6L210.56,342.6L210.56,343.9L213.12,343.9L213.12,343.9L214.60,343.9L214.60,376.4L218.24,376.4L218.24,380.1L220.80,380.1L220.80,388.3L223.36,388.3L223.36,397.0L225.92,397.0L225.92,402.2L228.48,402.2L228.48,406.7L231.04,406.7L231.04,420.7L233.60,420.7L233.60,422.7L236.16,422.7L236.16,431.8L238.72,431.8L238.72,435.7L241.29,435.7L241.28,439.0L243.85,439.0L243.85,439.3L246.41,439.3L246.41,436.5L248.97,436.5L248.97,434.4L251.53,434.4L251.53,430.3L254.09,430.3L254.09,423.8L256.65,423.8L256.65,419.1L259.21,419.1L259.21,416.0L261.77,416.0L261.77,411.4L264.33,411.4L264.33,410.8L266.89,410.8L266.89,406.7L269.45,406.7L269.45,404.1L272.01,404.1L272.01,402.7L274.58,402.7L274.58,403.1L277.14,403.1L277.14,402.2L279.70,402.2L279.70,399.7L282.26,399.7L282.26,394.7L284.82,394.7L284.82,390.3L287.38,390.3L287.38,389.2L289.94,389.2L289.94,388.0L292.50,388.0L292.50,386.3L295.06,386.3L295.06,384.6L297.62,384.6L297.62,382.9L300.18,382.9L300.18,378.9L302.75,378.9L302.75,375.8L305.31,375.8L305.31,377.7L307.87,377.7L307.87,381.3L310.43,381.3L310.43,382.4L312.99,382.4L312.99,383.5L315.55,383.5L315.55,384.7L318.11,384.7L318.11,386.0L320.67,386.0L320.67,390.6L323.23,390.6L323.23,394.3L325.79,394.3L325.79,396.1L328.35,396.1L328.35,397.8L330.91,397.8L330.91,400.4L333.48,400.4L333.48,402.9L336.04,402.9L336.04,406.9L338.60,406.9L338.60,405.4L341.16,405.4L341.16,409.3L343.72,409.3L343.72,409.9L346.28,409.9L346.28,412.0L348.84,412.0L348.84,411.9L351.40,411.9L351.40,417.2L353.96,417.2L353.96,414.1L356.52,414.1L356.52,419.4L359.08,419.4L359.08,418.9L361.64,418.9L361.64,420.3L364.21,420.3L364.21,420.8L366.77,420.8L366.77,427.7L369.33,427.7L369.33,432.9L371.89,432.9L371.89,436.2L374.45,436.2L374.45,434.8L377.01,434.8L377.01,434.5L379.57,434.5L379.57,434.8L382.13,434.8L382.13,442.6L384.69,442.6L384.69,444.0L387.25,444.0L387.25,448.1L389.81,448.1L389.81,445.9L392.37,445.9L392.37,447.1L394.94,447.1L394.94,446.8L397.50,446.8L397.50,448.9L400.06,448.9L400.06,446.9L402.62,446.9L402.62,449.7L405.18,449.7L405.18,449.5L407.74,449.5L407.74,449.8L410.30,449.8L410.30,452.8L412.86,452.8L412.86,457.3L415.42,457.3L415.42,456.1L417.98,456.1L417.98,462.0L420.54,462.0L420.54,462.6L423.10,462.6L423.10,463.9L425.67,463.9L425.67,457.9L428.23,457.9L428.23,458.0L430.79,458.0L430.79,460.1L433.35,460.1L433.35,457.7L435.91,457.7L435.91,457.6L438.47,457.6L438.47,454.8L441.03,454.8L441.03,452.1L443.59,452.1L443.59,453.8L446.15,453.8L446.15,454.3L448.71,454.3L448.71,456.7L451.27,456.7L451.27,454.9L453.83,454.9L453.83,448.7L456.40,448.7L456.40,446.3L458.96,446.3L458.96,448.8L461.52,448.8L461.52,452.1L464.08,452.1L464.08,443.8L466.64,443.8L466.64,441.9L469.20,441.9L469.20,442.0L471.76,442.0L471.76,438.7L474.32,438.7L474.32,440.8L476.88,440.8L476.88,471.0L479.44,471.0L479.44,471.5L482.00,471.5L482.00,473.2L484.56,473.2L484.56,474.9L487.13,474.9L487.12,474.2L489.69,474.2L489.69,474.7L492.25,474.7L492.25,474.2L494.81,474.2L494.81,473.0L497.37,473.0L497.37,473.8L499.93,473.8L499.93,478.0L502.49,478.0L502.49,475.0L505.05,475.0L505.05,475.0L507.61,475.0L507.61,477.7L510.17,477.7L510.17,478.3L512.73,478.3L512.73,482.5L515.29,482.5L515.29,483.2L517.86,483.2L517.86,479.1L520.42,479.1L520.42,477.1L522.98,477.1L522.98,481.9L525.54,481.9L525.54,482.3L528.10,482.3L528.10,489.4L530.66,489.4L530.66,493.7L533.22,493.7L533.22,495.2L535.78,495.2L535.78,495.8L538.34,495.8L538.34,501.2L540.90,501.2L540.90,497.2L543.46,497.2L543.46,500.3L546.02,500.3L546.02,509.4L548.59,509.4L548.59,505.0L551.15,505.0L551.15,516.4L553.71,516.4L553.71,520.0L556.27,520.0L556.27,510.0L558.83,510.0L558.83,509.5L561.39,509.5L561.39,505.2L563.95,505.2L563.95,501.1L566.51,501.1L566.51,498.3L569.07,498.3L569.07,501.4L571.63,501.4L571.63,494.2L574.19,494.2L574.19,496.9L576.75,496.9L576.75,494.0L579.32,494.0L579.32,489.6L581.88,489.6L581.88,486.2L584.44,486.2L584.44,485.5L587.00,485.5L587.00,481.2L589.56,481.2L589.56,476.1L592.12,476.1L592.12,471.7L594.68,471.7L594.68,476.5L597.24,476.5L597.24,480.9L599.80,480.9L599.80,482.6L602.36,482.6L602.36,479.2L604.92,479.2L604.92,481.3L607.48,481.3L607.48,485.7L610.04,485.7L610.05,484.8L612.61,484.8L612.61,484.4L615.17,484.4L615.17,485.7L617.73,485.7L617.73,485.1L620.29,485.1L620.29,484.2L622.85,484.2L622.85,477.5L625.41,477.5L625.41,485.0L627.97,485.0L627.97,485.0L630.53,485.0L630.53,483.2L633.09,483.2L633.09,480.6L635.65,480.6L635.65,480.8L638.21,480.8L638.21,479.4L640.78,479.4L640.78,475.8L643.34,475.8L643.34,477.1L645.90,477.1L645.90,311.0Z" fill="#A6A6A6"/>
<path d="M113.24,311.0L113.24,323.1L115.80,323.1L115.80,324.9L118.37,324.9L118.37,326.0L120.93,326.0L120.93,326.6L123.49,326.6L123.49,325.1L126.05,325.1L126.05,331.9L128.61,331.9L128.61,335.1L131.17,335.1L131.17,337.4L133.73,337.4L133.73,334.8L136.29,334.8L136.29,333.4L138.85,333.4L138.85,332.1L141.41,332.1L141.41,329.2L143.97,329.2L143.97,328.3L146.53,328.3L146.53,328.3L149.09,328.3L149.09,329.7L151.66,329.7L151.66,332.9L154.22,332.9L154.22,334.3L156.78,334.3L156.78,333.2L159.34,333.2L159.34,332.7L161.90,332.7L161.90,333.1L164.46,333.1L164.46,333.9L167.02,333.9L167.02,333.8L169.58,333.8L169.58,333.5L172.14,333.5L172.14,335.4L174.70,335.4L174.70,336.8L177.26,336.8L177.26,338.7L179.82,338.7L179.82,340.4L182.39,340.4L182.39,337.8L184.95,337.8L184.95,335.3L187.51,335.3L187.51,333.1L190.07,333.1L190.07,331.8L192.63,331.8L192.63,332.5L195.19,332.5L195.19,333.1L197.75,333.1L197.75,332.1L200.31,332.1L200.31,331.3L202.87,331.3L202.87,332.6L205.43,332.6L205.43,333.9L207.99,333.9L207.99,333.7L210.56,333.7L210.56,334.3L213.12,334.3L213.12,334.3L214.60,334.3L214.60,366.7L218.24,366.7L218.24,369.9L220.80,369.9L220.80,377.3L223.36,377.3L223.36,384.1L225.92,384.1L225.92,389.7L228.48,389.7L228.48,394.9L231.04,394.9L231.04,410.5L233.60,410.5L233.60,412.0L236.16,412.0L236.16,419.3L238.72,419.3L238.72,422.3L241.29,422.3L241.28,425.5L243.85,425.5L243.85,429.1L246.41,429.1L246.41,424.6L248.97,424.6L248.97,423.8L251.53,423.8L251.53,420.7L254.09,420.7L254.09,413.8L256.65,413.8L256.65,409.5L259.21,409.5L259.21,405.7L261.77,405.7L261.77,402.6L264.33,402.6L264.33,401.3L266.89,401.3L266.89,399.8L269.45,399.8L269.45,398.1L272.01,398.1L272.01,393.2L274.58,393.2L274.58,392.7L277.14,392.7L277.14,392.0L279.70,392.0L279.70,390.7L282.26,390.7L282.26,386.6L284.82,386.6L284.82,383.2L287.38,383.2L287.38,382.8L289.94,382.8L289.94,382.2L292.50,382.2L292.50,380.9L295.06,380.9L295.06,379.8L297.62,379.8L297.62,378.9L300.18,378.9L300.18,373.5L302.75,373.5L302.75,368.3L305.31,368.3L305.31,370.2L307.87,370.2L307.87,373.8L310.43,373.8L310.43,374.9L312.99,374.9L312.99,376.0L315.55,376.0L315.55,377.2L318.11,377.2L318.11,378.5L320.67,378.5L320.67,384.3L323.23,384.3L323.23,386.8L325.79,386.8L325.79,389.4L328.35,389.4L328.35,390.0L330.91,390.0L330.91,391.1L333.48,391.1L333.48,394.3L336.04,394.3L336.04,397.8L338.60,397.8L338.60,397.2L341.16,397.2L341.16,400.7L343.72,400.7L343.72,401.7L346.28,401.7L346.28,402.7L348.84,402.7L348.84,403.0L351.40,403.0L351.40,407.1L353.96,407.1L353.96,404.9L356.52,404.9L356.52,410.3L359.08,410.3L359.08,410.7L361.64,410.7L361.64,411.7L364.21,411.7L364.21,412.0L366.77,412.0L366.77,416.4L369.33,416.4L369.33,421.7L371.89,421.7L371.89,424.9L374.45,424.9L374.45,425.0L377.01,425.0L377.01,424.0L379.57,424.0L379.57,424.7L382.13,424.7L382.13,430.5L384.69,430.5L384.69,432.8L387.25,432.8L387.25,436.2L389.81,436.2L389.81,434.4L392.37,434.4L392.37,435.1L394.94,435.1L394.94,435.4L397.50,435.4L397.50,436.9L400.06,436.9L400.06,436.1L402.62,436.1L402.62,438.5L405.18,438.5L405.18,438.8L407.74,438.8L407.74,437.7L410.30,437.7L410.30,438.2L412.86,438.2L412.86,442.3L415.42,442.3L415.42,445.5L417.98,445.5L417.98,450.1L420.54,450.1L420.54,451.0L423.10,451.0L423.10,451.6L425.67,451.6L425.67,447.0L428.23,447.0L428.23,446.0L430.79,446.0L430.79,448.4L433.35,448.4L433.35,446.8L435.91,446.8L435.91,446.7L438.47,446.7L438.47,442.5L441.03,442.5L441.03,440.7L443.59,440.7L443.59,441.6L446.15,441.6L446.15,443.5L448.71,443.5L448.71,445.2L451.27,445.2L451.27,443.8L453.83,443.8L453.83,436.4L456.40,436.4L456.40,434.7L458.96,434.7L458.96,436.4L461.52,436.4L461.52,441.3L464.08,441.3L464.08,432.3L466.64,432.3L466.64,431.4L469.20,431.4L469.20,431.0L471.76,431.0L471.76,428.3L474.32,428.3L474.32,429.7L476.88,429.7L476.88,461.7L479.44,461.7L479.44,461.7L482.00,461.7L482.00,462.3L484.56,462.3L484.56,463.2L487.13,463.2L487.12,461.0L489.69,461.0L489.69,462.3L492.25,462.3L492.25,462.8L494.81,462.8L494.81,461.9L497.37,461.9L497.37,462.3L499.93,462.3L499.93,466.0L502.49,466.0L502.49,464.0L505.05,464.0L505.05,463.5L507.61,463.5L507.61,466.6L510.17,466.6L510.17,466.0L512.73,466.0L512.73,469.5L515.29,469.5L515.29,470.7L517.86,470.7L517.86,466.9L520.42,466.9L520.42,465.6L522.98,465.6L522.98,471.0L525.54,471.0L525.54,471.5L528.10,471.5L528.10,478.8L530.66,478.8L530.66,486.1L533.22,486.1L533.22,485.5L535.78,485.5L535.78,489.4L538.34,489.4L538.34,488.6L540.90,488.6L540.90,486.7L543.46,486.7L543.46,490.2L546.02,490.2L546.02,500.2L548.59,500.2L548.59,495.8L551.15,495.8L551.15,506.5L553.71,506.5L553.71,510.8L556.27,510.8L556.27,501.6L558.83,501.6L558.83,500.6L561.39,500.6L561.39,496.0L563.95,496.0L563.95,491.9L566.51,491.9L566.51,489.1L569.07,489.1L569.07,491.6L571.63,491.6L571.63,485.0L574.19,485.0L574.19,486.9L576.75,486.9L576.75,483.5L579.32,483.5L579.32,479.6L581.88,479.6L581.88,477.9L584.44,477.9L584.44,477.1L587.00,477.1L587.00,472.9L589.56,472.9L589.56,467.8L592.12,467.8L592.12,463.3L594.68,463.3L594.68,468.7L597.24,468.7L597.24,472.6L599.80,472.6L599.80,475.0L602.36,475.0L602.36,472.4L604.92,472.4L604.92,473.9L607.48,473.9L607.48,478.2L610.04,478.2L610.05,477.3L612.61,477.3L612.61,477.1L615.17,477.1L615.17,479.0L617.73,479.0L617.73,477.6L620.29,477.6L620.29,475.9L622.85,475.9L622.85,467.5L625.41,467.5L625.41,476.2L627.97,476.2L627.97,474.6L630.53,474.6L630.53,472.4L633.09,472.4L633.09,469.8L635.65,469.8L635.65,469.9L638.21,469.9L638.21,467.6L640.78,467.6L640.78,462.5L643.34,462.5L643.34,463.8L645.90,463.8L645.90,311.0Z" fill="#92D050"/>
<path d="M113.24,311.0L113.24,319.8L115.80,319.8L115.80,321.5L118.37,321.5L118.37,322.5L120.93,322.5L120.93,322.5L123.49,322.5L123.49,321.7L126.05,321.7L126.05,328.6L128.61,328.6L128.61,331.5L131.17,331.5L131.17,333.2L133.73,333.2L133.73,330.7L136.29,330.7L136.29,329.2L138.85,329.2L138.85,327.4L141.41,327.4L141.41,322.5L143.97,322.5L143.97,321.5L146.53,321.5L146.53,321.0L149.09,321.0L149.09,322.2L151.66,322.2L151.66,325.4L154.22,325.4L154.22,327.1L156.78,327.1L156.78,326.4L159.34,326.4L159.34,325.4L161.90,325.4L161.90,325.3L164.46,325.3L164.46,325.7L167.02,325.7L167.02,324.8L169.58,324.8L169.58,323.3L172.14,323.3L172.14,323.3L174.70,323.3L174.70,323.8L177.26,323.8L177.26,325.1L179.82,325.1L179.82,326.2L182.39,326.2L182.39,323.7L184.95,323.7L184.95,321.7L187.51,321.7L187.51,319.7L190.07,319.7L190.07,318.5L192.63,318.5L192.63,319.1L195.19,319.1L195.19,319.8L197.75,319.8L197.75,319.6L200.31,319.6L200.31,318.9L202.87,318.9L202.87,318.4L205.43,318.4L205.43,318.7L207.99,318.7L207.99,319.0L210.56,319.0L210.56,320.3L213.12,320.3L213.12,320.3L214.60,320.3L214.60,353.2L218.24,353.2L218.24,356.1L220.80,356.1L220.80,363.1L223.36,363.1L223.36,371.1L225.92,371.1L225.92,378.0L228.48,378.0L228.48,383.4L231.04,383.4L231.04,394.9L233.60,394.9L233.60,400.1L236.16,400.1L236.16,405.1L238.72,405.1L238.72,408.1L241.29,408.1L241.28,411.1L243.85,411.1L243.85,412.7L246.41,412.7L246.41,408.1L248.97,408.1L248.97,406.4L251.53,406.4L251.53,404.5L254.09,404.5L254.09,402.0L256.65,402.0L256.65,398.3L259.21,398.3L259.21,395.7L261.77,395.7L261.77,392.3L264.33,392.3L264.33,391.4L266.89,391.4L266.89,390.4L269.45,390.4L269.45,389.0L272.01,389.0L272.01,385.8L274.58,385.8L274.58,385.8L277.14,385.8L277.14,385.3L279.70,385.3L279.70,384.0L282.26,384.0L282.26,381.6L284.82,381.6L284.82,376.5L287.38,376.5L287.38,376.1L289.94,376.1L289.94,375.6L292.50,375.6L292.50,374.3L295.06,374.3L295.06,373.1L297.62,373.1L297.62,372.3L300.18,372.3L300.18,368.1L302.75,368.1L302.75,364.2L305.31,364.2L305.31,365.7L307.87,365.7L307.87,368.6L310.43,368.6L310.43,369.3L312.99,369.3L312.99,370.0L315.55,370.0L315.55,370.4L318.11,370.4L318.11,370.7L320.67,370.7L320.67,370.5L323.23,370.5L323.23,371.9L325.79,371.9L325.79,375.1L328.35,375.1L328.35,375.4L330.91,375.4L330.91,376.1L333.48,376.1L333.48,379.2L336.04,379.2L336.04,382.6L338.60,382.6L338.60,381.6L341.16,381.6L341.16,385.3L343.72,385.3L343.72,386.8L346.28,386.8L346.28,388.3L348.84,388.3L348.84,388.5L351.40,388.5L351.40,392.2L353.96,392.2L353.96,390.6L356.52,390.6L356.52,397.1L359.08,397.1L359.08,397.9L361.64,397.9L361.64,399.6L364.21,399.6L364.21,400.4L366.77,400.4L366.77,404.7L369.33,404.7L369.33,410.6L371.89,410.6L371.89,413.3L374.45,413.3L374.45,412.6L377.01,412.6L377.01,412.7L379.57,412.7L379.57,413.9L382.13,413.9L382.13,419.8L384.69,419.8L384.69,422.6L387.25,422.6L387.25,426.2L389.81,426.2L389.81,424.4L392.37,424.4L392.37,425.1L394.94,425.1L394.94,425.4L397.50,425.4L397.50,427.1L400.06,427.1L400.06,426.7L402.62,426.7L402.62,429.3L405.18,429.3L405.18,429.8L407.74,429.8L407.74,429.3L410.30,429.3L410.30,433.0L412.86,433.0L412.86,438.0L415.42,438.0L415.42,440.2L417.98,440.2L417.98,444.6L420.54,444.6L420.54,445.6L423.10,445.6L423.10,446.6L425.67,446.6L425.67,442.9L428.23,442.9L428.23,443.3L430.79,443.3L430.79,444.4L433.35,444.4L433.35,443.0L435.91,443.0L435.91,442.9L438.47,442.9L438.47,438.8L441.03,438.8L441.03,436.7L443.59,436.7L443.59,437.9L446.15,437.9L446.15,440.0L448.71,440.0L448.71,441.7L451.27,441.7L451.27,440.3L453.83,440.3L453.83,432.9L456.40,432.9L456.40,431.2L458.96,431.2L458.96,432.9L461.52,432.9L461.52,437.3L464.08,437.3L464.08,428.8L466.64,428.8L466.64,427.9L469.20,427.9L469.20,427.8L471.76,427.8L471.76,425.1L474.32,425.1L474.32,426.3L476.88,426.3L476.88,456.1L479.44,456.1L479.44,454.5L482.00,454.5L482.00,454.2L484.56,454.2L484.56,454.2L487.13,454.2L487.12,452.6L489.69,452.6L489.69,453.5L492.25,453.5L492.25,453.4L494.81,453.4L494.81,451.7L497.37,451.7L497.37,451.7L499.93,451.7L499.93,454.9L502.49,454.9L502.49,452.3L505.05,452.3L505.05,451.8L507.61,451.8L507.61,454.6L510.17,454.6L510.17,453.8L512.73,453.8L512.73,456.8L515.29,456.8L515.29,456.5L517.86,456.5L517.86,453.3L520.42,453.3L520.42,452.9L522.98,452.9L522.98,457.3L525.54,457.3L525.54,456.9L528.10,456.9L528.10,464.5L530.66,464.5L530.66,471.3L533.22,471.3L533.22,471.1L535.78,471.1L535.78,474.4L538.34,474.4L538.34,473.6L540.90,473.6L540.90,471.7L543.46,471.7L543.46,475.9L546.02,475.9L546.02,486.0L548.59,486.0L548.59,480.8L551.15,480.8L551.15,491.5L553.71,491.5L553.71,495.8L556.27,495.8L556.27,485.0L558.83,485.0L558.83,484.0L561.39,484.0L561.39,479.3L563.95,479.3L563.95,475.4L566.51,475.4L566.51,473.7L569.07,473.7L569.07,476.4L571.63,476.4L571.63,469.2L574.19,469.2L574.19,471.9L576.75,471.9L576.75,469.0L579.32,469.0L579.32,464.9L581.88,464.9L581.88,461.7L584.44,461.7L584.44,463.6L587.00,463.6L587.00,458.4L589.56,458.4L589.56,452.2L592.12,452.2L592.12,446.7L594.68,446.7L594.68,452.8L597.24,452.8L597.24,456.7L599.80,456.7L599.80,459.1L602.36,459.1L602.36,456.5L604.92,456.5L604.92,458.1L607.48,458.1L607.48,462.4L610.04,462.4L610.05,461.5L612.61,461.5L612.61,461.2L615.17,461.2L615.17,463.2L617.73,463.2L617.73,461.8L620.29,461.8L620.29,460.1L622.85,460.1L622.85,450.8L625.41,450.8L625.41,460.3L627.97,460.3L627.97,458.8L630.53,458.8L630.53,456.8L633.09,456.8L633.09,454.7L635.65,454.7L635.65,454.9L638.21,454.9L638.21,452.6L640.78,452.6L640.78,447.5L643.34,447.5L643.34,448.8L645.90,448.8L645.90,311.0Z" fill="#FF9900"/>
<path d="M113.24,311.0L113.24,318.1L115.80,318.1L115.80,319.9L118.37,319.9L118.37,321.0L120.93,321.0L120.93,321.6L123.49,321.6L123.49,320.4L126.05,320.4L126.05,325.6L128.61,325.6L128.61,326.9L131.17,326.9L131.17,327.4L133.73,327.4L133.73,325.5L136.29,325.5L136.29,323.9L138.85,323.9L138.85,321.9L141.41,321.9L141.41,318.4L143.97,318.4L143.97,317.3L146.53,317.3L146.53,316.9L149.09,316.9L149.09,317.4L151.66,317.4L151.66,319.2L154.22,319.2L154.22,321.2L156.78,321.2L156.78,321.2L159.34,321.2L159.34,319.7L161.90,319.7L161.90,319.2L164.46,319.2L164.46,319.7L167.02,319.7L167.02,318.9L169.58,318.9L169.58,317.4L172.14,317.4L172.14,316.1L174.70,316.1L174.70,313.8L177.26,313.8L177.26,312.7L179.82,312.7L179.82,313.0L182.39,313.0L182.39,313.3L184.95,313.3L184.95,313.1L187.51,313.1L187.51,312.7L190.07,312.7L190.07,312.5L192.63,312.5L192.63,312.5L195.19,312.5L195.19,312.5L197.75,312.5L197.75,312.6L200.31,312.6L200.31,312.8L202.87,312.8L202.87,313.0L205.43,313.0L205.43,313.1L207.99,313.1L207.99,313.3L210.56,313.3L210.56,312.6L213.12,312.6L213.12,312.6L214.60,312.6L214.60,340.6L218.24,340.6L218.24,337.9L220.80,337.9L220.80,345.0L223.36,345.0L223.36,348.9L225.92,348.9L225.92,352.3L228.48,352.3L228.48,353.1L231.04,353.1L231.04,355.8L233.60,355.8L233.60,355.0L236.16,355.0L236.16,354.0L238.72,354.0L238.72,351.8L241.29,351.8L241.28,352.0L243.85,352.0L243.85,352.3L246.41,352.3L246.41,352.7L248.97,352.7L248.97,354.0L251.53,354.0L251.53,354.5L254.09,354.5L254.09,355.0L256.65,355.0L256.65,353.9L259.21,353.9L259.21,355.6L261.77,355.6L261.77,350.4L264.33,350.4L264.33,351.6L266.89,351.6L266.89,350.4L269.45,350.4L269.45,349.1L272.01,349.1L272.01,346.5L274.58,346.5L274.58,346.3L277.14,346.3L277.14,346.8L279.70,346.8L279.70,347.3L282.26,347.3L282.26,346.7L284.82,346.7L284.82,345.0L287.38,345.0L287.38,342.8L289.94,342.8L289.94,340.7L292.50,340.7L292.50,340.3L295.06,340.3L295.06,339.8L297.62,339.8L297.62,338.9L300.18,338.9L300.18,337.5L302.75,337.5L302.75,331.3L305.31,331.3L305.31,336.6L307.87,336.6L307.87,338.1L310.43,338.1L310.43,340.2L312.99,340.2L312.99,340.0L315.55,340.0L315.55,341.8L318.11,341.8L318.11,341.5L320.67,341.5L320.67,342.7L323.23,342.7L323.23,340.6L325.79,340.6L325.79,343.9L328.35,343.9L328.35,342.5L330.91,342.5L330.91,342.6L333.48,342.6L333.48,346.5L336.04,346.5L336.04,350.0L338.60,350.0L338.60,349.5L341.16,349.5L341.16,352.2L343.72,352.2L343.72,352.3L346.28,352.3L346.28,351.3L348.84,351.3L348.84,353.1L351.40,353.1L351.40,355.3L353.96,355.3L353.96,352.2L356.52,352.2L356.52,357.9L359.08,357.9L359.08,356.5L361.64,356.5L361.64,355.9L364.21,355.9L364.21,357.1L366.77,357.1L366.77,360.5L369.33,360.5L369.33,364.4L371.89,364.4L371.89,366.6L374.45,366.6L374.45,366.2L377.01,366.2L377.01,365.5L379.57,365.5L379.57,365.1L382.13,365.1L382.13,368.6L384.69,368.6L384.69,370.7L387.25,370.7L387.25,373.7L389.81,373.7L389.81,371.2L392.37,371.2L392.37,371.0L394.94,371.0L394.94,369.0L397.50,369.0L397.50,371.5L400.06,371.5L400.06,372.2L402.62,372.2L402.62,375.0L405.18,375.0L405.18,374.8L407.74,374.8L407.74,374.3L410.30,374.3L410.30,377.2L412.86,377.2L412.86,382.2L415.42,382.2L415.42,383.3L417.98,383.3L417.98,387.0L420.54,387.0L420.54,387.1L423.10,387.1L423.10,386.6L425.67,386.6L425.67,385.2L428.23,385.2L428.23,387.7L430.79,387.7L430.79,386.3L433.35,386.3L433.35,385.1L435.91,385.1L435.91,386.7L438.47,386.7L438.47,380.7L441.03,380.7L441.03,380.2L443.59,380.2L443.59,381.1L446.15,381.1L446.15,380.7L448.71,380.7L448.71,383.0L451.27,383.0L451.27,380.2L453.83,380.2L453.83,374.5L456.40,374.5L456.40,373.1L458.96,373.1L458.96,375.9L461.52,375.9L461.52,381.0L464.08,381.0L464.08,373.8L466.64,373.8L466.64,372.8L469.20,372.8L469.20,374.0L471.76,374.0L471.76,367.6L474.32,367.6L474.32,374.5L476.88,374.5L476.88,395.7L479.44,395.7L479.44,390.5L482.00,390.5L482.00,388.3L484.56,388.3L484.56,388.3L487.13,388.3L487.12,385.3L489.69,385.3L489.69,387.0L492.25,387.0L492.25,387.3L494.81,387.3L494.81,382.6L497.37,382.6L497.37,382.8L499.93,382.8L499.93,382.1L502.49,382.1L502.49,378.2L505.05,378.2L505.05,377.5L507.61,377.5L507.61,381.0L510.17,381.0L510.17,379.5L512.73,379.5L512.73,385.5L515.29,385.5L515.29,385.0L517.86,385.0L517.86,380.8L520.42,380.8L520.42,380.8L522.98,380.8L522.98,386.0L525.54,386.0L525.54,386.1L528.10,386.1L528.10,392.3L530.66,392.3L530.66,396.9L533.22,396.9L533.22,396.1L535.78,396.1L535.78,399.0L538.34,399.0L538.34,398.5L540.90,398.5L540.90,399.4L543.46,399.4L543.46,400.7L546.02,400.7L546.02,412.3L548.59,412.3L548.59,409.7L551.15,409.7L551.15,419.6L553.71,419.6L553.71,421.7L556.27,421.7L556.27,416.6L558.83,416.6L558.83,413.6L561.39,413.6L561.39,409.2L563.95,409.2L563.95,407.5L566.51,407.5L566.51,407.5L569.07,407.5L569.07,409.3L571.63,409.3L571.63,405.8L574.19,405.8L574.19,409.8L576.75,409.8L576.75,408.5L579.32,408.5L579.32,405.7L581.88,405.7L581.88,402.5L584.44,402.5L584.44,406.2L587.00,406.2L587.00,404.5L589.56,404.5L589.56,397.7L592.12,397.7L592.12,390.0L594.68,390.0L594.68,400.6L597.24,400.6L597.24,401.4L599.80,401.4L599.80,399.7L602.36,399.7L602.36,393.8L604.92,393.8L604.92,394.8L607.48,394.8L607.48,397.1L610.04,397.1L610.05,398.8L612.61,398.8L612.61,399.6L615.17,399.6L615.17,400.7L617.73,400.7L617.73,400.7L620.29,400.7L620.29,396.8L622.85,396.8L622.85,386.7L625.41,386.7L625.41,398.3L627.97,398.3L627.97,395.7L630.53,395.7L630.53,393.8L633.09,393.8L633.09,392.1L635.65,392.1L635.65,393.2L638.21,393.2L638.21,393.7L640.78,393.7L640.78,391.7L643.34,391.7L643.34,392.9L645.90,392.9L645.90,311.0Z" fill="#FFCCFF"/>
<path d="M113.24,311.0L113.24,318.1L115.80,318.1L115.80,319.9L118.37,319.9L118.37,321.0L120.93,321.0L120.93,321.6L123.49,321.6L123.49,320.4L126.05,320.4L126.05,325.6L128.61,325.6L128.61,326.9L131.17,326.9L131.17,327.4L133.73,327.4L133.73,325.5L136.29,325.5L136.29,323.9L138.85,323.9L138.85,321.9L141.41,321.9L141.41,318.4L143.97,318.4L143.97,317.3L146.53,317.3L146.53,316.9L149.09,316.9L149.09,317.4L151.66,317.4L151.66,319.2L154.22,319.2L154.22,321.2L156.78,321.2L156.78,321.2L159.34,321.2L159.34,319.7L161.90,319.7L161.90,319.2L164.46,319.2L164.46,319.7L167.02,319.7L167.02,318.9L169.58,318.9L169.58,317.4L172.14,317.4L172.14,316.1L174.70,316.1L174.70,313.8L177.26,313.8L177.26,312.7L179.82,312.7L179.82,313.0L182.39,313.0L182.39,313.3L184.95,313.3L184.95,313.1L187.51,313.1L187.51,312.7L190.07,312.7L190.07,312.5L192.63,312.5L192.63,312.5L195.19,312.5L195.19,312.5L197.75,312.5L197.75,312.6L200.31,312.6L200.31,312.8L202.87,312.8L202.87,313.0L205.43,313.0L205.43,313.1L207.99,313.1L207.99,313.3L210.56,313.3L210.56,312.6L213.12,312.6L213.12,312.6L214.60,312.6L214.60,324.0L218.24,324.0L218.24,323.1L220.80,323.1L220.80,322.0L223.36,322.0L223.36,321.2L225.92,321.2L225.92,326.1L228.48,326.1L228.48,324.2L231.04,324.2L231.04,315.8L233.60,315.8L233.60,315.2L236.16,315.2L236.16,315.0L238.72,315.0L238.72,314.4L241.29,314.4L241.28,312.0L243.85,312.0L243.85,313.8L246.41,313.8L246.41,313.4L248.97,313.4L248.97,318.0L251.53,318.0L251.53,317.9L254.09,317.9L254.09,318.7L256.65,318.7L256.65,317.4L259.21,317.4L259.21,316.5L261.77,316.5L261.77,315.3L264.33,315.3L264.33,317.2L266.89,317.2L266.89,315.4L269.45,315.4L269.45,315.6L272.01,315.6L272.01,313.8L274.58,313.8L274.58,314.2L277.14,314.2L277.14,313.9L279.70,313.9L279.70,316.5L282.26,316.5L282.26,316.0L284.82,316.0L284.82,316.6L287.38,316.6L287.38,313.9L289.94,313.9L289.94,313.8L292.50,313.8L292.50,313.8L295.06,313.8L295.06,316.2L297.62,316.2L297.62,314.5L300.18,314.5L300.18,315.0L302.75,315.0L302.75,312.8L305.31,312.8L305.31,313.4L307.87,313.4L307.87,312.1L310.43,312.1L310.43,313.0L312.99,313.0L312.99,312.0L315.55,312.0L315.55,313.6L318.11,313.6L318.11,313.5L320.67,313.5L320.67,316.8L323.23,316.8L323.23,312.5L325.79,312.5L325.79,319.2L328.35,319.2L328.35,315.8L330.91,315.8L330.91,316.2L333.48,316.2L333.48,317.6L336.04,317.6L336.04,317.0L338.60,317.0L338.60,317.1L341.16,317.1L341.16,320.3L343.72,320.3L343.72,317.1L346.28,317.1L346.28,320.2L348.84,320.2L348.84,316.1L351.40,316.1L351.40,315.9L353.96,315.9L353.96,317.5L356.52,317.5L356.52,317.6L359.08,317.6L359.08,313.7L361.64,313.7L361.64,314.6L364.21,314.6L364.21,314.5L366.77,314.5L366.77,316.3L369.33,316.3L369.33,315.0L371.89,315.0L371.89,315.9L374.45,315.9L374.45,314.1L377.01,314.1L377.01,313.8L379.57,313.8L379.57,312.0L382.13,312.0L382.13,313.5L384.69,313.5L384.69,312.7L387.25,312.7L387.25,313.6L389.81,313.6L389.81,312.3L392.37,312.3L392.37,313.4L394.94,313.4L394.94,312.1L397.50,312.1L397.50,313.1L400.06,313.1L400.06,312.1L402.62,312.1L402.62,313.4L405.18,313.4L405.18,312.6L407.74,312.6L407.74,313.6L410.30,313.6L410.30,312.0L412.86,312.0L412.86,316.1L415.42,316.1L415.42,319.6L417.98,319.6L417.98,324.6L420.54,324.6L420.54,320.2L423.10,320.2L423.10,319.3L425.67,319.3L425.67,315.8L428.23,315.8L428.23,317.9L430.79,317.9L430.79,317.3L433.35,317.3L433.35,316.4L435.91,316.4L435.91,315.4L438.47,315.4L438.47,312.7L441.03,312.7L441.03,312.0L443.59,312.0L443.59,313.9L446.15,313.9L446.15,312.3L448.71,312.3L448.71,312.9L451.27,312.9L451.27,312.0L453.83,312.0L453.83,312.5L456.40,312.5L456.40,312.0L458.96,312.0L458.96,312.5L461.52,312.5L461.52,313.9L464.08,313.9L464.08,314.2L466.64,314.2L466.64,312.3L469.20,312.3L469.20,313.4L471.76,313.4L471.76,314.2L474.32,314.2L474.32,320.2L476.88,320.2L476.88,322.0L479.44,322.0L479.44,315.0L482.00,315.0L482.00,312.6L484.56,312.6L484.56,312.0L487.13,312.0L487.12,312.0L489.69,312.0L489.69,312.0L492.25,312.0L492.25,312.0L494.81,312.0L494.81,312.0L497.37,312.0L497.37,312.0L499.93,312.0L499.93,312.0L502.49,312.0L502.49,312.0L505.05,312.0L505.05,312.0L507.61,312.0L507.61,312.0L510.17,312.0L510.17,312.0L512.73,312.0L512.73,312.8L515.29,312.8L515.29,312.4L517.86,312.4L517.86,312.2L520.42,312.2L520.42,312.7L522.98,312.7L522.98,312.7L525.54,312.7L525.54,312.2L528.10,312.2L528.10,312.1L530.66,312.1L530.66,312.3L533.22,312.3L533.22,312.5L535.78,312.5L535.78,315.9L538.34,315.9L538.34,313.9L540.90,313.9L540.90,314.7L543.46,314.7L543.46,320.2L546.02,320.2L546.02,319.3L548.59,319.3L548.59,316.3L551.15,316.3L551.15,322.3L553.71,322.3L553.71,321.4L556.27,321.4L556.27,320.8L558.83,320.8L558.83,320.8L561.39,320.8L561.39,312.6L563.95,312.6L563.95,312.9L566.51,312.9L566.51,313.3L569.07,313.3L569.07,315.3L571.63,315.3L571.63,313.7L574.19,313.7L574.19,320.1L576.75,320.1L576.75,320.5L579.32,320.5L579.32,325.0L581.88,325.0L581.88,321.7L584.44,321.7L584.44,327.7L587.00,327.7L587.00,328.6L589.56,328.6L589.56,329.6L592.12,329.6L592.12,320.8L594.68,320.8L594.68,328.7L597.24,328.7L597.24,334.3L599.80,334.3L599.80,329.6L602.36,329.6L602.36,330.6L604.92,330.6L604.92,331.5L607.48,331.5L607.48,326.7L610.04,326.7L610.05,331.2L612.61,331.2L612.61,330.5L615.17,330.5L615.17,335.2L617.73,335.2L617.73,338.3L620.29,338.3L620.29,335.8L622.85,335.8L622.85,326.7L625.41,326.7L625.41,340.7L627.97,340.7L627.97,340.1L630.53,340.1L630.53,335.5L633.09,335.5L633.09,338.6L635.65,338.6L635.65,336.9L638.21,336.9L638.21,337.6L640.78,337.6L640.78,338.1L643.34,338.1L643.34,338.3L645.90,338.3L645.90,311.0Z" fill="#FF0000"/>
<rect x="484.7" y="305" width="3.3" height="6.0" fill="#FF0000"/>
<rect x="488" y="308" width="5.0" height="3.0" fill="#FF0000"/>
<rect x="494.7" y="303" width="2.0" height="8.0" fill="#FF0000"/>
<rect x="496.7" y="305.3" width="8.0" height="5.7" fill="#FF0000"/>
<rect x="504.7" y="308" width="6.6" height="3.0" fill="#FF0000"/>
<rect x="518" y="306.3" width="3.3" height="4.7" fill="#FF0000"/>
<rect x="526.3" y="305.8" width="2.5" height="5.2" fill="#FF0000"/>
<rect x="528.8" y="307.5" width="4.2" height="3.5" fill="#FF0000"/>
<rect x="443.8" y="308.7" width="2.5" height="2.3" fill="#FF0000"/>
<rect x="456.8" y="307" width="1.2" height="4.0" fill="#FF0000"/>
<rect x="469.7" y="308" width="1.3" height="3.0" fill="#FF0000"/>
<rect x="102" y="21.5" width="2" height="578" fill="#000"/>
<rect x="94" y="310.0" width="593" height="2" fill="#000"/>
<rect x="94" y="21.6" width="9" height="2" fill="#000"/>
<rect x="94" y="93.6" width="9" height="2" fill="#000"/>
<rect x="94" y="165.6" width="9" height="2" fill="#000"/>
<rect x="94" y="237.7" width="9" height="2" fill="#000"/>
<rect x="94" y="381.7" width="9" height="2" fill="#000"/>
<rect x="94" y="453.7" width="9" height="2" fill="#000"/>
<rect x="94" y="525.7" width="9" height="2" fill="#000"/>
<rect x="94" y="597.8" width="9" height="2" fill="#000"/>
<rect x="102" y="311.0" width="2" height="9" fill="#000"/>
<rect x="163" y="311.0" width="2" height="9" fill="#000"/>
<rect x="225" y="311.0" width="2" height="9" fill="#000"/>
<rect x="286" y="311.0" width="2" height="9" fill="#000"/>
<rect x="348" y="311.0" width="2" height="9" fill="#000"/>
<rect x="409" y="311.0" width="2" height="9" fill="#000"/>
<rect x="470" y="311.0" width="2" height="9" fill="#000"/>
<rect x="532" y="311.0" width="2" height="9" fill="#000"/>
<rect x="593" y="311.0" width="2" height="9" fill="#000"/>
<rect x="655" y="311.0" width="2" height="9" fill="#000"/>
</g>
<g>
<text x="76.9" y="30.1" font-size="24.5" text-anchor="end">2000</text>
<text x="76.9" y="102.1" font-size="24.5" text-anchor="end">1500</text>
<text x="76.9" y="174.1" font-size="24.5" text-anchor="end">1000</text>
<text x="76.9" y="246.2" font-size="24.5" text-anchor="end">500</text>
<text x="76.9" y="318.2" font-size="24.5" text-anchor="end">0</text>
<text x="76.9" y="390.2" font-size="24.5" text-anchor="end">-500</text>
<text x="76.9" y="462.2" font-size="24.5" text-anchor="end">-1000</text>
<text x="76.9" y="534.2" font-size="24.5" text-anchor="end">-1500</text>
<text x="76.9" y="606.3" font-size="24.5" text-anchor="end">-2000</text>
<text x="104.0" y="642.7" font-size="24.5" text-anchor="middle">08</text>
<text x="165.5" y="642.7" font-size="24.5" text-anchor="middle">10</text>
<text x="226.9" y="642.7" font-size="24.5" text-anchor="middle">12</text>
<text x="288.4" y="642.7" font-size="24.5" text-anchor="middle">14</text>
<text x="349.8" y="642.7" font-size="24.5" text-anchor="middle">16</text>
<text x="411.3" y="642.7" font-size="24.5" text-anchor="middle">18</text>
<text x="472.8" y="642.7" font-size="24.5" text-anchor="middle">20</text>
<text x="534.2" y="642.7" font-size="24.5" text-anchor="middle">22</text>
<text x="595.7" y="642.7" font-size="24.5" text-anchor="middle">24</text>
<text x="657.1" y="642.7" font-size="24.5" text-anchor="middle">26</text>
<rect x="118" y="19.2" width="17" height="17" fill="#FF0000"/>
<text x="141.5" y="34.8" font-size="23" textLength="75.2" lengthAdjust="spacingAndGlyphs">France</text>
<rect x="118" y="51.8" width="17" height="17" fill="#7030A0"/>
<text x="141.5" y="67.4" font-size="23" textLength="134.20000000000002" lengthAdjust="spacingAndGlyphs">Netherlands</text>
<rect x="118" y="84.4" width="17" height="17" fill="#FFCCFF"/>
<text x="141.5" y="100.0" font-size="23" textLength="45.8" lengthAdjust="spacingAndGlyphs">Italy</text>
<rect x="118" y="117.0" width="17" height="17" fill="#92D050"/>
<text x="142.5" y="132.6" font-size="23" textLength="78.2" lengthAdjust="spacingAndGlyphs">Greece</text>
<rect x="118" y="149.6" width="17" height="17" fill="#CC9900"/>
<text x="141.5" y="165.2" font-size="23" textLength="46.5" lengthAdjust="spacingAndGlyphs">ECB</text>
<rect x="297.3" y="19.2" width="17" height="17" fill="#00B0F0"/>
<text x="320.7" y="34.8" font-size="23" textLength="99.1" lengthAdjust="spacingAndGlyphs">Germany</text>
<rect x="297.3" y="51.8" width="17" height="17" fill="#CCCCFF"/>
<text x="319.7" y="67.4" font-size="23" textLength="136.8" lengthAdjust="spacingAndGlyphs">Luxembourg</text>
<rect x="297.3" y="84.4" width="17" height="17" fill="#FF9900"/>
<text x="320.7" y="100.0" font-size="23" textLength="60.8" lengthAdjust="spacingAndGlyphs">Spain</text>
<rect x="297.3" y="117.0" width="17" height="17" fill="#A6A6A6"/>
<text x="319.7" y="132.6" font-size="23" textLength="92.2" lengthAdjust="spacingAndGlyphs">Portugal</text>
<text x="552.6" y="52.4" font-size="35.4" font-weight="700" textLength="136.2" lengthAdjust="spacingAndGlyphs">Creditor</text>
<text x="640.6" y="88.8" font-size="25.0" font-weight="700" textLength="49.7" lengthAdjust="spacingAndGlyphs">Aug.</text>
<text x="641.1" y="121.6" font-size="25.0" font-weight="700" textLength="33.3" lengthAdjust="spacingAndGlyphs">'25</text>
<text x="106.1" y="459.7" font-size="24.0" font-weight="700" textLength="147.8" lengthAdjust="spacingAndGlyphs">2012: capital</text>
<text x="106.8" y="491.5" font-size="24.0" font-weight="700" textLength="57.8" lengthAdjust="spacingAndGlyphs">flight</text>
<text x="197.5" y="506.5" font-size="24.0" font-weight="700" textLength="180.1" lengthAdjust="spacingAndGlyphs">2015: Draghi QE</text>
<text x="315.5" y="556.3" font-size="24.0" font-weight="700" textLength="195.5" lengthAdjust="spacingAndGlyphs">2020: Lagarde QE</text>
<text x="560.5" y="603.0" font-size="34.8" font-weight="700" textLength="113.4" lengthAdjust="spacingAndGlyphs">Debtor</text>
<text x="108.6" y="581.5" font-size="23" textLength="381.2" lengthAdjust="spacingAndGlyphs">Target2 balance of different central</text>
<text x="108.8" y="613.8" font-size="23" textLength="360.6" lengthAdjust="spacingAndGlyphs">banks in the Euro zone, in EUR bn</text>
<line x1="180.8" y1="433.7" x2="205.3" y2="415.1" stroke="#000" stroke-width="4.9"/>
<polygon points="215.3,407.5 209.5,422.2 199.6,409.1" fill="#000"/>
<line x1="305.8" y1="470.8" x2="330.3" y2="452.2" stroke="#000" stroke-width="4.9"/>
<polygon points="340.3,444.7 334.5,459.4 324.6,446.3" fill="#000"/>
<line x1="432.9" y1="525.8" x2="457.7" y2="507.4" stroke="#000" stroke-width="4.9"/>
<polygon points="467.8,500.0 461.8,514.7 452.0,501.4" fill="#000"/>
</g>
</svg>
</body></html>
